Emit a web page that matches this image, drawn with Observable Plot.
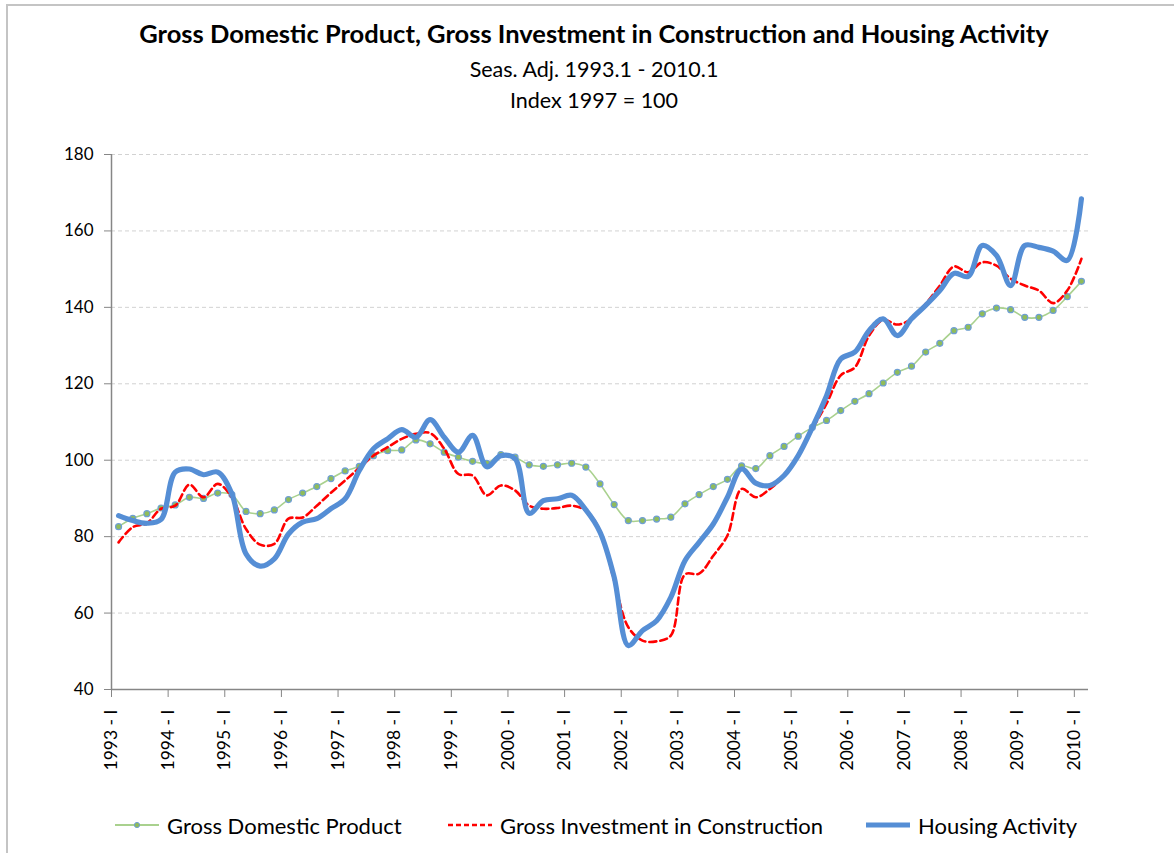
<!DOCTYPE html>
<html><head><meta charset="utf-8">
<script src="https://cdn.jsdelivr.net/npm/d3@7"></script>
<script src="https://cdn.jsdelivr.net/npm/@observablehq/plot@0.6"></script>
<style>
body{margin:0;background:#fff;font-family:Lato,"Open Sans",sans-serif;}
#wrap{position:relative;width:1174px;height:853px;overflow:hidden;background:#fff;}
#frame{position:absolute;left:6px;top:4px;width:1300px;height:1000px;border-left:2px solid #c4c4c4;border-top:2px solid #c4c4c4;}
.t{position:absolute;left:0;width:1188px;text-align:center;color:#000;white-space:nowrap;}
#title{top:18px;line-height:30px;font-size:25.5px;font-weight:bold;}
#sub1{top:54px;line-height:30px;font-size:21.5px;}
#sub2{top:85px;line-height:30px;font-size:21.5px;}
#chart{position:absolute;left:0;top:130px;}
.li{position:absolute;top:811px;height:28px;display:flex;align-items:center;font-size:22px;color:#000;white-space:nowrap;}
.li svg{margin-right:6px;}
</style></head>
<body><div id="wrap">
<div id="frame"></div>
<div class="t" id="title"></div>
<div class="t" id="sub1"></div>
<div class="t" id="sub2"></div>
<div id="chart"></div>
<div class="li" id="lg1" style="left:115px"></div>
<div class="li" id="lg2" style="left:448px"></div>
<div class="li" id="lg3" style="left:866px"></div>
</div>
<script>
// ---- texts ----
const titleText = "Gross Domestic Product, Gross Investment in Construction and Housing Activity";
const subtitle1 = "Seas. Adj. 1993.1 - 2010.1";
const subtitle2 = "Index 1997 = 100";
const seriesNames = ["Gross Domestic Product", "Gross Investment in Construction", "Housing Activity"];

// ---- categories: quarters 1993 I .. 2010 I ----
const years = [1993,1994,1995,1996,1997,1998,1999,2000,2001,2002,2003,2004,2005,2006,2007,2008,2009,2010];
const quarterNames = ["I","II","III","IV"];
const quarters = years.flatMap(y => quarterNames.map(q => `${y} - ${q}`)).slice(0, 69);
const yTicks = [40,60,80,100,120,140,160,180];

// ---- series values (index 1997 = 100) ----
const gdp = [82.6,84.8,86.0,87.5, 88.3,90.3,90.0,91.4, 91.0,86.6,86.0,87.0, 89.7,91.4,93.1,95.2,
  97.2,98.4,101.2,102.5, 102.7,105.3,104.3,102.1, 100.8,99.7,99.2,101.5, 100.8,98.8,98.4,98.8,
  99.2,98.2,93.8,88.4, 84.2,84.2,84.6,85.1, 88.6,91.0,93.1,95.0, 98.5,97.8,101.2,103.6,
  106.3,108.6,110.4,113.0, 115.4,117.4,120.2,123.0, 124.6,128.3,130.6,133.9, 134.8,138.3,139.8,139.4,
  137.4,137.4,139.2,142.8, 146.8];
const construction = [78.5,82.5,83.5,87.3, 88.1,93.6,90.3,93.8, 90.3,82.0,77.9,78.1, 84.7,85.0,88.1,91.5,
  94.7,98.0,101.2,103.4, 105.6,106.9,107.1,103.0, 96.4,96.0,90.8,93.4, 92.1,88.1,87.3,87.5,
  88.1,86.8,81.6,68.5, 56.3,52.8,52.6,54.1, 70.1,70.3,75.0,80.3, 92.5,90.3,92.5,96.0,
  101.6,108.2,114.8,122.2, 124.3,132.6,136.7,135.5, 137.0,140.9,145.7,150.7, 149.2,151.8,150.9,147.5,
  145.7,144.4,141.1,144.4, 152.7];
const housing = [85.5,84.2,83.5,84.5, 96.9,97.7,96.2,96.9, 91.2,75.5,72.3,74.2, 80.7,83.8,84.7,87.3,
  89.9,97.3,103.0,105.6, 108.0,106.0,110.6,106.0, 102.1,106.5,98.3,101.2, 100.4,86.1,89.4,89.9,
  90.8,87.0,81.2,69.4, 51.5,55.4,58.0,64.1, 73.7,78.5,83.3,90.3, 97.7,94.0,93.4,96.0,
  101.2,108.6,116.9,126.5, 128.3,133.9,137.0,132.6, 137.0,140.5,144.4,148.9, 148.1,156.2,153.6,145.7,
  156.2,155.7,154.7,152.3, 168.4];

const colors = {gdpLine:"#a9d18e", gdpDot:"#8fbc5a", gdpDotStroke:"#6f9fd4", constr:"#ff0000", housing:"#558ed5"};

// position: each quarter sits in the middle of its category slot
const rows = quarters.map((q, i) => ({q, i, x: i + 0.5, gdp: gdp[i], con: construction[i], hou: housing[i]}));
const yearTicks = quarters.map((q, i) => ({q, i})).filter(d => d.q.endsWith(" - I")).map(d => d.i);

document.getElementById("title").textContent = titleText;
document.getElementById("sub1").textContent = subtitle1;
document.getElementById("sub2").textContent = subtitle2;

const chart = Plot.plot({
  width: 1174,
  height: 660,
  marginLeft: 111,
  marginRight: 86,
  marginTop: 24,
  marginBottom: 101,
  x: {domain: [0, quarters.length]},
  y: {domain: [40, 180]},
  style: {fontFamily: "Lato, 'Open Sans', sans-serif", fontSize: "17px", color: "#000", background: "transparent", overflow: "visible"},
  marks: [
    Plot.ruleY(yTicks.filter(v => v > 40), {stroke: "#d2d2d2", strokeDasharray: "4,3", strokeWidth: 1}),
    Plot.axisY({ticks: yTicks, tickSize: 7, tickPadding: 11, label: null, stroke: "#868686", fontSize: 17, tickFormat: d => String(d)}),
    Plot.axisX({ticks: yearTicks, tickSize: 8, tickPadding: 12, tickRotate: -90, label: null, stroke: "#868686", fontSize: 17.5,
      tickFormat: i => quarters[i]}),
    Plot.ruleX([0], {stroke: "#868686", strokeWidth: 1.5}),
    Plot.ruleY([40], {stroke: "#868686", strokeWidth: 1.5}),
    Plot.line(rows, {x: "x", y: "gdp", stroke: colors.gdpLine, strokeWidth: 1.6, curve: "catmull-rom"}),
    Plot.dot(rows, {x: "x", y: "gdp", r: 3, fill: colors.gdpDot, stroke: colors.gdpDotStroke, strokeWidth: 1.2}),
    Plot.line(rows, {x: "x", y: "con", stroke: colors.constr, strokeWidth: 2.6, strokeDasharray: "7,4", curve: "catmull-rom"}),
    Plot.line(rows, {x: "x", y: "hou", stroke: colors.housing, strokeWidth: 5.2, curve: "catmull-rom", strokeLinejoin: "round", strokeLinecap: "round"})
  ]
});
document.getElementById("chart").appendChild(chart);

// legend
function sym(kind) {
  const ns = "http://www.w3.org/2000/svg";
  const s = document.createElementNS(ns, "svg");
  s.setAttribute("width", 46); s.setAttribute("height", 12);
  const l = document.createElementNS(ns, "line");
  l.setAttribute("x1", 0); l.setAttribute("x2", 44); l.setAttribute("y1", 6); l.setAttribute("y2", 6);
  if (kind === 0) { l.setAttribute("stroke", colors.gdpLine); l.setAttribute("stroke-width", 2); }
  if (kind === 1) { l.setAttribute("stroke", colors.constr); l.setAttribute("stroke-width", 2.5); l.setAttribute("stroke-dasharray", "5,3"); }
  if (kind === 2) { l.setAttribute("stroke", colors.housing); l.setAttribute("stroke-width", 5); }
  s.appendChild(l);
  if (kind === 0) {
    const c = document.createElementNS(ns, "circle");
    c.setAttribute("cx", 22); c.setAttribute("cy", 6); c.setAttribute("r", 2.6);
    c.setAttribute("fill", colors.gdpDot); c.setAttribute("stroke", colors.gdpDotStroke);
    s.appendChild(c);
  }
  return s;
}
["lg1","lg2","lg3"].forEach((id, k) => {
  const el = document.getElementById(id);
  el.appendChild(sym(k));
  const sp = document.createElement("span"); sp.textContent = seriesNames[k];
  el.appendChild(sp);
});
</script>
</body></html>
